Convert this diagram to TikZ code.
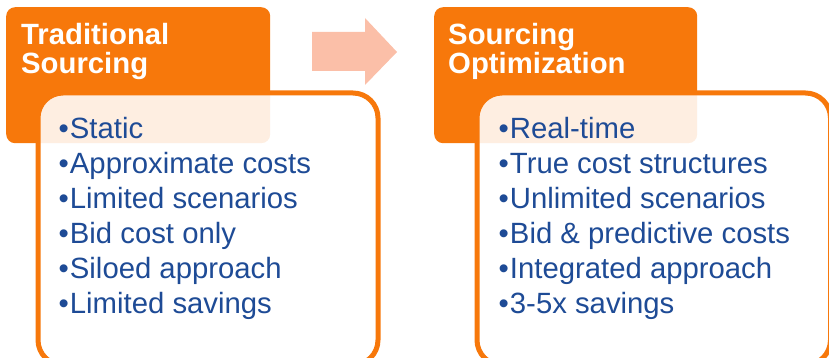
\documentclass[tikz,border=0pt]{standalone}
\usepackage{fontspec}
\setmainfont{Liberation Sans}
\usepackage{tikz}
\usetikzlibrary{positioning}
\definecolor{boxorange}{RGB}{247,120,11}
\definecolor{arrowpeach}{RGB}{251,191,168}
\definecolor{itemblue}{RGB}{30,75,150}

\begin{document}
\begin{tikzpicture}[x=1pt,y=-1pt]
      \tikzstyle{head}=[rectangle,fill=boxorange,rounded corners=9pt,anchor=north west,inner sep=0pt]
      \tikzstyle{body}=[rectangle,draw=boxorange,line width=5pt,rounded corners=25pt,fill=white,fill opacity=0.88,anchor=north west,inner sep=0pt]
      \tikzstyle{title}=[text=white,font=\fontsize{29.3}{29}\selectfont\bfseries,align=left,anchor=north west,inner sep=0pt]
      \tikzstyle{items}=[text=itemblue,font=\fontsize{29.3}{35}\selectfont,align=left,anchor=north west,inner sep=0pt]
      \useasboundingbox (0,0) rectangle (829,358);
      \node[head,minimum width=264pt,minimum height=136pt] (oldhead) at (6,7) {};
      \node[head,minimum width=263pt,minimum height=136pt] (newhead) at (434,7) {};
      \node[body,minimum width=340pt,minimum height=272pt] (oldbody) at (35.5,90.5) {};
      \node[body,minimum width=353.5pt,minimum height=272pt] (newbody) at (474.5,90.5) {};
      \fill[arrowpeach] (312,32) -- (365,32) -- (365,18) -- (397,52) -- (365,85) -- (365,71) -- (312,71) -- cycle;
      \node[title] (oldtitle) at (21,20) {\rule{0pt}{24pt}Traditional\\Sourcing};
      \node[title] (newtitle) at (448,20) {\rule{0pt}{24pt}Sourcing\\Optimization};
      \node[items] (olditems) at (58.5,114) {\rule{0pt}{24pt}•\kern1pt Static\\•\kern1pt Approximate costs\\•\kern1pt Limited scenarios\\•\kern1pt Bid cost only\\•\kern1pt Siloed approach\\•\kern1pt Limited savings};
      \node[items] (newitems) at (498.5,114) {\rule{0pt}{24pt}•\kern1pt Real-time\\•\kern1pt True cost structures\\•\kern1pt Unlimited scenarios\\•\kern1pt Bid \& predictive costs\\•\kern1pt Integrated approach\\•\kern1pt 3-5x savings};
\end{tikzpicture}
\end{document}
